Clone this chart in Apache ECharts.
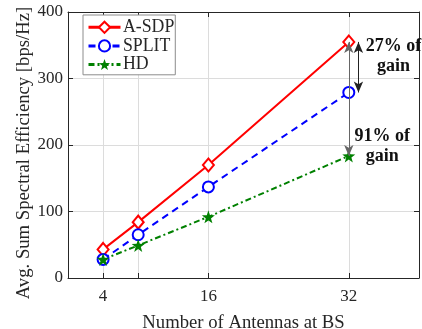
<!DOCTYPE html>
<html><head><meta charset="utf-8">
<script src="https://cdn.jsdelivr.net/npm/echarts@6/dist/echarts.min.js"></script>
<style>html,body{margin:0;padding:0;background:#fff}#c{width:422px;height:329px}</style>
</head><body><div id="c"></div>
<script>
const antennas = [4, 8, 16, 32];
const xTickValues = [4, 8, 16, 32];
const xLabelValues = [4, 16, 32];
const asdp = [43, 84, 170, 355];
const split = [28, 65, 137, 279];
const hd = [28, 49, 92, 183.5];
const gain27 = {x: 33.1, from: 279, to: 355, text: '27% of\ngain', tx: 37.1, ty: 332.8, color: '#222'};
const gain91 = {x: 32, from: 183.5, to: 355, text: '91% of\ngain', tx: 35.8, ty: 198.5, color: '#666'};

const font = 'Liberation Serif, Times New Roman, serif';
const ink = '#262626';
const pairs = a => antennas.map((x, i) => [x, a[i]]);

const chart = echarts.init(document.getElementById('c'), null, {renderer: 'canvas'});
const xBase = {
  type: 'value', min: 0, max: 40,
  axisLine: {show: true, onZero: false, lineStyle: {color: ink, width: 1}},
  axisTick: {show: true, inside: true, length: 5, customValues: xTickValues, lineStyle: {color: ink}},
  splitLine: {show: false}
};
const yBase = {
  type: 'value', min: 0, max: 400, interval: 100,
  axisLine: {show: true, onZero: false, lineStyle: {color: ink, width: 1}},
  axisTick: {show: true, inside: true, length: 5, lineStyle: {color: ink}},
  splitLine: {show: false}
};
const arrowLine = (g) => ({
  silent: true, symbol: ['arrow', 'arrow'], symbolSize: [7, 11],
  lineStyle: {color: g.color, width: 1, type: 'solid'},
  itemStyle: {color: '#111'},
  label: {show: false},
  data: [[{coord: [g.x, g.from]}, {coord: [g.x, g.to]}]]
});
const textPoint = (g) => ({
  coord: [g.tx, g.ty], symbolSize: 0,
  label: {show: true, formatter: g.text, color: '#111', fontFamily: font, fontWeight: 'bold', fontSize: 18, lineHeight: 20, align: 'center', position: 'inside'}
});

chart.setOption({
  animation: false,
  backgroundColor: '#fff',
  grid: {left: 68, top: 12, right: 3, bottom: 51, containLabel: false, outerBoundsMode: 'none'},
  xAxis: [
    Object.assign({}, xBase, {
      position: 'bottom',
      name: 'Number of Antennas at BS', nameLocation: 'middle', nameGap: 36, nameMoveOverlap: false,
      nameTextStyle: {fontFamily: font, fontSize: 18.7, color: ink},
      axisLabel: {show: true, customValues: xLabelValues, margin: 10, fontFamily: font, fontSize: 17, color: ink},
      splitLine: {show: true, lineStyle: {color: '#dcdcdc', width: 1}}
    }),
    Object.assign({}, xBase, {position: 'top', axisLabel: {show: false}})
  ],
  yAxis: [
    Object.assign({}, yBase, {
      position: 'left',
      name: 'Avg. Sum Spectral Efficiency [bps/Hz]', nameLocation: 'middle', nameGap: 34, nameMoveOverlap: false,
      nameTextStyle: {fontFamily: font, fontSize: 18.7, color: ink, padding: [0, 16, 0, 0]},
      axisLabel: {show: true, margin: 5, fontFamily: font, fontSize: 17, color: ink},
      splitLine: {show: true, lineStyle: {color: '#dcdcdc', width: 1}}
    }),
    Object.assign({}, yBase, {position: 'right', axisLabel: {show: false}})
  ],
  legend: {
    left: 83, top: 15, orient: 'vertical',
    backgroundColor: '#fff', borderColor: '#8c8c8c', borderWidth: 1,
    padding: [3, 1, 1, 4], itemGap: 0, itemWidth: 32, itemHeight: 14,
    lineStyle: {width: 3},
    textStyle: {fontFamily: font, fontSize: 17.8, lineHeight: 18.6, color: ink, padding: [0, 0, 0, -2.6]},
    data: ['A-SDP', 'SPLIT', 'HD']
  },
  series: [
    {name: 'A-SDP', type: 'line', data: pairs(asdp), symbol: 'emptyDiamond', symbolSize: [11, 13],
      itemStyle: {color: '#ff0000', borderWidth: 2}, lineStyle: {color: '#ff0000', width: 2}, z: 3,
      markLine: arrowLine(gain27)},
    {name: 'SPLIT', type: 'line', data: pairs(split), symbol: 'emptyCircle', symbolSize: 11,
      itemStyle: {color: '#0000ff', borderWidth: 2}, lineStyle: {color: '#0000ff', width: 2, type: [7, 5]}, z: 3,
      markLine: arrowLine(gain91)},
    {name: 'HD', type: 'line', data: pairs(hd), symbol: 'path://M0,-10 L2.35,-3.24 L9.51,-3.09 L3.8,1.24 L5.88,8.09 L0,4 L-5.88,8.09 L-3.8,1.24 L-9.51,-3.09 L-2.35,-3.24 Z', symbolSize: 13,
      itemStyle: {color: '#008000'}, lineStyle: {color: '#008000', width: 2, type: [6, 3, 2, 3]}, z: 3,
      markPoint: {silent: true, data: [textPoint(gain27), textPoint(gain91)]}}
  ]
});
</script></body></html>
